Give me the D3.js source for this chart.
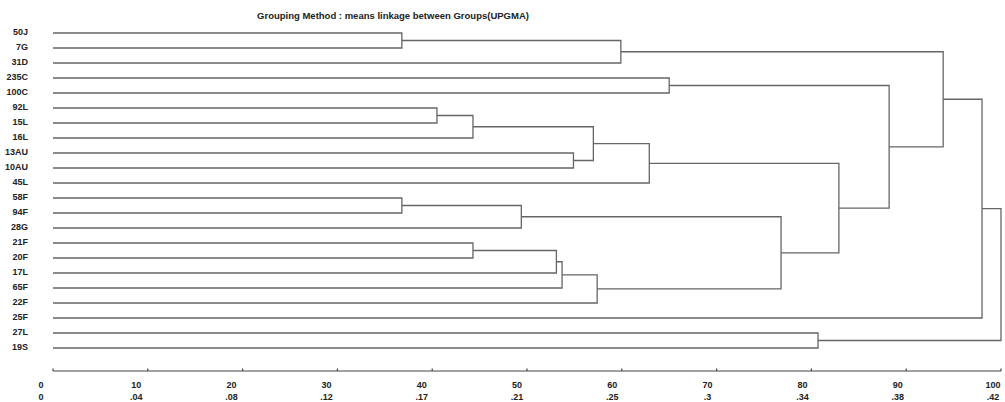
<!DOCTYPE html>
<html>
<head>
<meta charset="utf-8">
<script src="https://cdn.jsdelivr.net/npm/d3@7"></script>
<style>
  body { margin: 0; background: #fff; }
  svg text { font-family: "Liberation Sans", Arial, sans-serif; font-weight: bold; fill: #222; }
</style>
</head>
<body>
<div id="chart"></div>
<script>
const title = "Grouping Method : means linkage between Groups(UPGMA)";

// leaf order, top to bottom
const leaves = ["50J", "7G", "31D", "235C", "100C", "92L", "15L", "16L", "13AU", "10AU", "45L",
  "58F", "94F", "28G", "21F", "20F", "17L", "65F", "22F", "25F", "27L", "19S"];

// merges: [cluster a, cluster b, rescaled distance]; "mN" refers to the Nth merge
const merges = [
  ["50J", "7G", 36.8],   // m0
  ["58F", "94F", 36.8],  // m1
  ["92L", "15L", 40.5],  // m2
  ["m2", "16L", 44.3],   // m3
  ["21F", "20F", 44.3],  // m4
  ["m1", "28G", 49.4],   // m5
  ["m4", "17L", 53.1],   // m6
  ["m6", "65F", 53.7],   // m7
  ["13AU", "10AU", 54.9],// m8
  ["m3", "m8", 57.0],    // m9
  ["m7", "22F", 57.4],   // m10
  ["m0", "31D", 59.9],   // m11
  ["m9", "45L", 62.9],   // m12
  ["235C", "100C", 65.0],// m13
  ["m5", "m10", 76.8],   // m14
  ["27L", "19S", 80.7],  // m15
  ["m12", "m14", 82.9],  // m16
  ["m13", "m16", 88.2],  // m17
  ["m11", "m17", 93.9],  // m18
  ["m18", "25F", 98.0],  // m19
  ["m19", "m15", 100]    // m20
];

const topTicks = [0, 10, 20, 30, 40, 50, 60, 70, 80, 90, 100];
const bottomTicks = ["0", ".04", ".08", ".12", ".17", ".21", ".25", ".3", ".34", ".38", ".42"];

const width = 1005, height = 402;

const svg = d3.select("#chart").append("svg")
  .attr("width", width)
  .attr("height", height);

const x = d3.scaleLinear().domain([0, 100]).range([53, 1001]);
const y = d3.scalePoint().domain(leaves).range([33, 348]);
// tick labels sit a little off the tick marks in the original
const xLabel = d3.scaleLinear().domain([0, 100]).range([41, 993]);

svg.append("text")
  .attr("x", 393)
  .attr("y", 19)
  .attr("text-anchor", "middle")
  .attr("font-size", 9.5)
  .text(title);

// leaf labels
svg.append("g").selectAll("text")
  .data(leaves)
  .join("text")
    .attr("x", 28)
    .attr("y", d => y(d) - 1.5)
    .attr("dy", "0.35em")
    .attr("text-anchor", "end")
    .attr("font-size", 9)
    .text(d => d);

// build node positions
const nodes = {};
leaves.forEach(name => { nodes[name] = { y: y(name), h: 0 }; });

const gLink = svg.append("g")
  .attr("fill", "none")
  .attr("stroke", "#666")
  .attr("stroke-width", 1.3);

merges.forEach(([a, b, dist], i) => {
  const na = nodes[a], nb = nodes[b];
  const hx = x(dist);
  const path = d3.path();
  path.moveTo(x(na.h), na.y);
  path.lineTo(hx, na.y);
  path.lineTo(hx, nb.y);
  path.lineTo(x(nb.h), nb.y);
  gLink.append("path").attr("d", path.toString());
  nodes["m" + i] = { y: (na.y + nb.y) / 2, h: dist };
});

// axis
const axisY = 371;
const gAxis = svg.append("g")
  .attr("stroke", "#444")
  .attr("stroke-width", 1.2);

gAxis.append("line")
  .attr("x1", x(0)).attr("x2", x(100))
  .attr("y1", axisY).attr("y2", axisY);

gAxis.selectAll("line.tick")
  .data(topTicks)
  .join("line")
    .attr("class", "tick")
    .attr("x1", d => x(d)).attr("x2", d => x(d))
    .attr("y1", axisY).attr("y2", axisY - 2.5);

svg.append("g").selectAll("text")
  .data(topTicks)
  .join("text")
    .attr("x", d => xLabel(d))
    .attr("y", 388)
    .attr("text-anchor", "middle")
    .attr("font-size", 9)
    .text(d => d);

svg.append("g").selectAll("text")
  .data(bottomTicks)
  .join("text")
    .attr("x", (d, i) => xLabel(topTicks[i]))
    .attr("y", 399.5)
    .attr("text-anchor", "middle")
    .attr("font-size", 9)
    .text(d => d);
</script>
</body>
</html>
